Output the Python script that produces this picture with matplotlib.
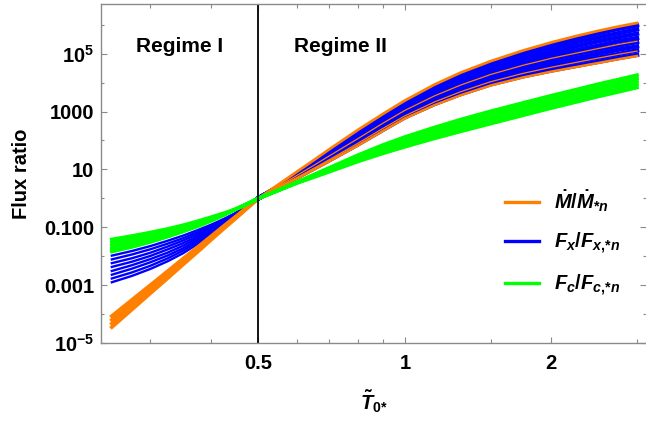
import matplotlib
matplotlib.use('Agg')
import matplotlib.pyplot as plt
import numpy as np
from matplotlib.ticker import FixedLocator, FixedFormatter, NullFormatter
from matplotlib.lines import Line2D

plt.rcParams['font.family'] = ['Liberation Sans', 'DejaVu Sans']
plt.rcParams['font.weight'] = 'bold'
plt.rcParams['mathtext.fontset'] = 'custom'
plt.rcParams['mathtext.rm'] = 'Liberation Sans:bold'
plt.rcParams['mathtext.it'] = 'Liberation Sans:italic:bold'
plt.rcParams['mathtext.bf'] = 'Liberation Sans:bold'
plt.rcParams['mathtext.sf'] = 'Liberation Sans:bold'

# ---------------- data (log10 of flux ratio) -------------
T0 = [0.25, 0.275, 0.3, 0.325, 0.35, 0.375, 0.4, 0.425, 0.45, 0.475, 0.5,
      0.55, 0.6, 0.65, 0.7, 0.8, 0.9, 1.0, 1.15, 1.3, 1.5, 1.75, 2.0, 2.25, 2.5, 2.75, 3.0]

mdot_log10 = [
    [-4.07, -3.51, -3.00, -2.53, -2.09, -1.69, -1.31, -0.95, -0.62, -0.30, 0,
     0.37, 0.68, 0.99, 1.28, 1.82, 2.32, 2.76, 3.22, 3.56, 3.90, 4.18, 4.38, 4.54, 4.68, 4.81, 4.92],
    [-4.20, -3.62, -3.09, -2.61, -2.16, -1.74, -1.35, -0.98, -0.64, -0.31, 0,
     0.39, 0.72, 1.04, 1.34, 1.90, 2.41, 2.85, 3.33, 3.68, 4.03, 4.32, 4.53, 4.70, 4.85, 4.98, 5.09],
    [-4.33, -3.74, -3.19, -2.69, -2.23, -1.80, -1.39, -1.02, -0.66, -0.32, 0,
     0.42, 0.79, 1.14, 1.47, 2.06, 2.59, 3.04, 3.54, 3.91, 4.28, 4.60, 4.84, 5.02, 5.18, 5.32, 5.43],
    [-4.45, -3.84, -3.28, -2.77, -2.29, -1.85, -1.43, -1.04, -0.68, -0.33, 0,
     0.48, 0.92, 1.32, 1.70, 2.36, 2.91, 3.38, 3.93, 4.34, 4.74, 5.11, 5.39, 5.61, 5.79, 5.94, 6.06],
]

fx_log10 = [
    [-1.98, -1.82, -1.65, -1.47, -1.29, -1.10, -0.91, -0.71, -0.50, -0.26, 0,
     0.40, 0.72, 1.03, 1.32, 1.86, 2.36, 2.80, 3.26, 3.60, 3.94, 4.22, 4.42, 4.58, 4.72, 4.85, 4.96],
    [-2.11, -1.94, -1.76, -1.57, -1.38, -1.17, -0.96, -0.73, -0.51, -0.26, 0,
     0.40, 0.74, 1.06, 1.36, 1.92, 2.43, 2.87, 3.34, 3.69, 4.04, 4.34, 4.55, 4.72, 4.86, 4.99, 5.11],
    [-2.24, -2.07, -1.88, -1.67, -1.46, -1.24, -1.00, -0.76, -0.51, -0.26, 0,
     0.40, 0.75, 1.09, 1.41, 1.98, 2.49, 2.94, 3.43, 3.79, 4.15, 4.45, 4.67, 4.85, 5.00, 5.14, 5.25],
    [-2.37, -2.19, -1.99, -1.77, -1.55, -1.31, -1.05, -0.78, -0.52, -0.26, 0,
     0.40, 0.77, 1.12, 1.45, 2.04, 2.56, 3.01, 3.51, 3.88, 4.25, 4.57, 4.80, 4.99, 5.14, 5.28, 5.40],
    [-2.51, -2.31, -2.10, -1.88, -1.64, -1.37, -1.09, -0.81, -0.53, -0.26, 0,
     0.40, 0.79, 1.15, 1.49, 2.10, 2.63, 3.08, 3.60, 3.98, 4.35, 4.68, 4.93, 5.12, 5.28, 5.43, 5.54],
    [-2.64, -2.43, -2.21, -1.98, -1.73, -1.44, -1.14, -0.83, -0.54, -0.26, 0,
     0.40, 0.81, 1.18, 1.54, 2.16, 2.70, 3.16, 3.68, 4.07, 4.46, 4.80, 5.06, 5.26, 5.43, 5.57, 5.69],
    [-2.77, -2.56, -2.33, -2.08, -1.81, -1.51, -1.18, -0.85, -0.54, -0.26, 0,
     0.40, 0.82, 1.21, 1.58, 2.22, 2.76, 3.23, 3.76, 4.16, 4.56, 4.92, 5.18, 5.40, 5.57, 5.71, 5.84],
    [-2.90, -2.68, -2.44, -2.18, -1.90, -1.58, -1.23, -0.88, -0.55, -0.26, 0,
     0.40, 0.84, 1.24, 1.62, 2.28, 2.83, 3.30, 3.85, 4.26, 4.66, 5.03, 5.31, 5.53, 5.71, 5.86, 5.98],
]

fc_log10 = [
    [-1.42, -1.30, -1.18, -1.06, -0.93, -0.79, -0.65, -0.51, -0.37, -0.19, 0,
     0.28, 0.53, 0.73, 0.92, 1.27, 1.55, 1.78, 2.07, 2.31, 2.58, 2.87, 3.12, 3.33, 3.52, 3.68, 3.83],
    [-1.52, -1.40, -1.26, -1.13, -0.98, -0.84, -0.68, -0.53, -0.37, -0.19, 0,
     0.28, 0.53, 0.75, 0.96, 1.33, 1.62, 1.87, 2.17, 2.41, 2.69, 2.98, 3.23, 3.44, 3.63, 3.79, 3.94],
    [-1.63, -1.49, -1.35, -1.20, -1.04, -0.88, -0.72, -0.55, -0.37, -0.19, 0,
     0.28, 0.54, 0.78, 0.99, 1.38, 1.70, 1.95, 2.26, 2.52, 2.80, 3.09, 3.34, 3.55, 3.74, 3.90, 4.05],
    [-1.74, -1.58, -1.43, -1.26, -1.10, -0.92, -0.75, -0.56, -0.37, -0.19, 0,
     0.28, 0.55, 0.80, 1.03, 1.44, 1.77, 2.04, 2.36, 2.62, 2.90, 3.19, 3.44, 3.65, 3.84, 4.00, 4.15],
    [-1.84, -1.68, -1.51, -1.33, -1.15, -0.97, -0.78, -0.58, -0.37, -0.19, 0,
     0.28, 0.56, 0.82, 1.06, 1.49, 1.84, 2.12, 2.45, 2.72, 3.01, 3.30, 3.55, 3.76, 3.95, 4.11, 4.26],
]

series_labels = [r'$\dot{M}/\dot{M}_{{*}n}$', r'$F_x/F_{x,\!{*}n}$', r'$F_c/F_{c,\!{*}n}$']
series_colors = ['#FF7F00', '#0000FF', '#00FF00']

y_ticks = [1e-5, 1e-3, 1e-1, 1e1, 1e3, 1e5]
y_ticklabels = [r'$\mathbf{10^{-5}}$', '0.001', '0.100', '10', '1000', r'$\mathbf{10^{5}}$']
y_minor = [1e-4, 1e-2, 1e0, 1e2, 1e4, 1e6]
x_ticks = [0.5, 1, 2]
x_ticklabels = ['0.5', '1', '2']
x_minor = [0.3, 0.4, 0.6, 0.7, 0.8, 0.9, 1.5, 3]
regime_boundary = 0.5

# ---------------- figure -------------
fig = plt.figure(figsize=(6.46, 4.21), dpi=100)
ax = fig.add_axes([101/646, 78/421, 1 - 101/646, (416.5 - 78)/421])

x = np.array(T0)
k = int(np.argmin(np.abs(x - regime_boundary)))  # index of the regime boundary
# (curves, colour, line width in regime I, line widths in regime II); drawn blue, orange, green
styles = [(fx_log10, series_colors[1], 1.7, [3.2] * 8),
          (mdot_log10, series_colors[0], 2.7, [1.8, 0.9, 0.9, 2.0]),
          (fc_log10, series_colors[2], 2.6, [2.6] * 5)]
for curves, color, lw1, lw2s in styles:
    for c, lw2 in zip(curves, lw2s):
        y = 10.0 ** np.array(c)
        ax.plot(x[:k + 1], y[:k + 1], color=color, lw=lw1, solid_joinstyle='round')
        ax.plot(x[k:], y[k:], color=color, lw=lw2, solid_joinstyle='round')

ax.axvline(regime_boundary, color='black', lw=1.3)

ax.set_xscale('log')
ax.set_yscale('log')
ax.set_xlim(0.2375, 3.13)
ax.set_ylim(1e-5, 10 ** 6.70)

ax.xaxis.set_major_locator(FixedLocator(x_ticks))
ax.xaxis.set_major_formatter(FixedFormatter(x_ticklabels))
ax.xaxis.set_minor_locator(FixedLocator(x_minor))
ax.xaxis.set_minor_formatter(NullFormatter())
ax.yaxis.set_major_locator(FixedLocator(y_ticks))
ax.yaxis.set_major_formatter(FixedFormatter(y_ticklabels))
ax.yaxis.set_minor_locator(FixedLocator(y_minor))
ax.yaxis.set_minor_formatter(NullFormatter())

gray = '#8a8a8a'
for s in ['left', 'bottom', 'top']:
    ax.spines[s].set_color(gray)
    ax.spines[s].set_linewidth(1.0)
ax.spines['right'].set_visible(False)
ax.tick_params(which='both', direction='in', color=gray, top=True, right=True,
               labelsize=14.5, width=0.8)
ax.tick_params(axis='x', which='major', length=4.3, pad=8)
ax.tick_params(axis='x', which='minor', length=3.0)
ax.tick_params(axis='y', which='major', length=4.3, pad=5)
ax.tick_params(axis='y', which='minor', length=2.2)
for lab in ax.get_xticklabels() + ax.get_yticklabels():
    lab.set_fontweight('bold')

ax.set_ylabel('Flux ratio', fontsize=14.5, fontweight='bold')
ax.yaxis.set_label_coords(-0.128, 0.5)
ax.set_xlabel(r'$\tilde{T}_{0{*}}$', fontsize=14.5)
ax.xaxis.set_label_coords(0.5, -0.172)
ax.xaxis.label.set_verticalalignment('center')

ax.text(0.145, 0.877, 'Regime I', transform=ax.transAxes, ha='center', va='center',
        fontsize=15, fontweight='bold')
ax.text(0.4385, 0.877, 'Regime II', transform=ax.transAxes, ha='center', va='center',
        fontsize=15, fontweight='bold')

handles = [Line2D([], [], color=c, lw=2.4) for c in series_colors]
ax.legend(handles, series_labels, loc='upper left', bbox_to_anchor=(0.741, 0.456),
          frameon=False, fontsize=14.5, handlelength=1.7, handletextpad=0.72,
          labelspacing=0.82, borderpad=0, borderaxespad=0)

fig.savefig('out.png', dpi=100)
